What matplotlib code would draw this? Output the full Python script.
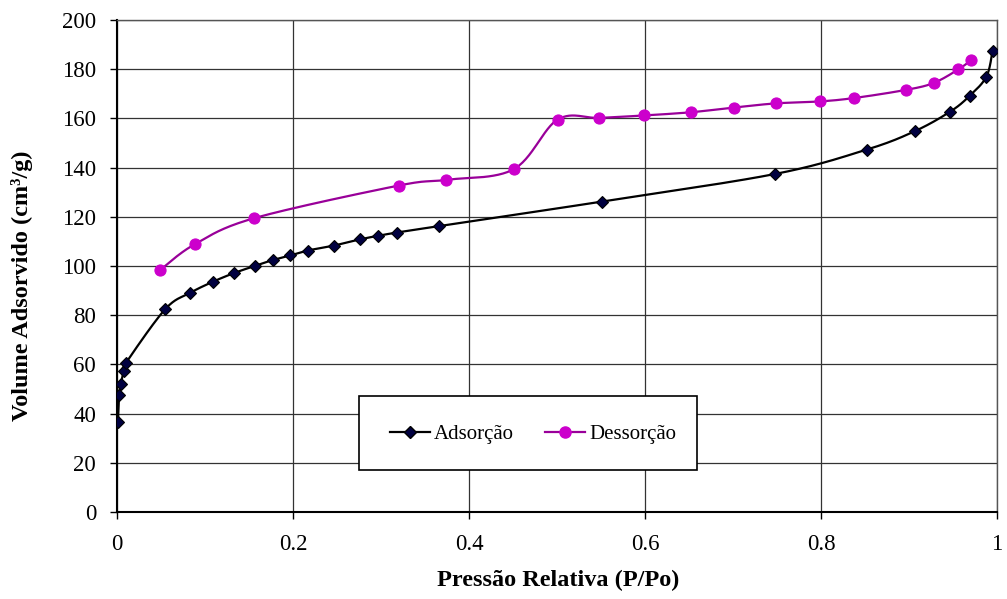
import numpy as np
import matplotlib
matplotlib.use("Agg")
import matplotlib.pyplot as plt
from matplotlib.patches import Rectangle

# Isotherm data: relative pressure P/Po and adsorbed volume (cm3/g)
ads_p = [0.0011, 0.0023, 0.0045, 0.0076, 0.0102, 0.0549, 0.0833, 0.109, 0.1328,
         0.1563, 0.177, 0.197, 0.2168, 0.2463, 0.2758, 0.297, 0.318, 0.3655,
         0.5513, 0.7477, 0.8518, 0.9066, 0.947, 0.969, 0.988, 0.995]
ads_v = [36.7, 47.5, 52.2, 57.4, 60.6, 82.5, 89.1, 93.6, 97.1,
         100.0, 102.4, 104.3, 106.3, 108.3, 110.8, 112.3, 113.6, 116.2,
         126.2, 137.4, 147.3, 154.8, 162.8, 169.2, 177.0, 187.5]

des_p = [0.0488, 0.0882, 0.1555, 0.320, 0.3734, 0.4506, 0.5006, 0.5482, 0.599,
         0.6523, 0.7008, 0.7485, 0.7988, 0.838, 0.8967, 0.928, 0.956, 0.971]
des_v = [98.3, 108.8, 119.4, 132.7, 135.0, 139.3, 159.5, 160.2, 161.2,
         162.5, 164.4, 166.1, 166.9, 168.3, 171.6, 174.4, 179.9, 183.8]

x_ticks = [0, 0.2, 0.4, 0.6, 0.8, 1]
x_tick_labels = ["0", "0.2", "0.4", "0.6", "0.8", "1"]
y_ticks = list(range(0, 201, 20))


def smooth_curve(x, y, sx=881.0, sy=2.457, n=30):
    """Bezier smoothing through the points (cardinal spline, tension 1/6),
    evaluated in screen-proportional units."""
    P = np.column_stack([np.asarray(x) * sx, np.asarray(y) * sy])
    out = [P[0]]
    for i in range(len(P) - 1):
        p0 = P[i - 1] if i > 0 else P[i]
        p1 = P[i]
        p2 = P[i + 1]
        p3 = P[i + 2] if i + 2 < len(P) else P[i + 1]
        c1 = p1 + (p2 - p0) / 6.0
        c2 = p2 - (p3 - p1) / 6.0
        t = np.linspace(0, 1, n)[1:, None]
        seg = ((1 - t) ** 3) * p1 + 3 * ((1 - t) ** 2) * t * c1 + 3 * (1 - t) * t ** 2 * c2 + t ** 3 * p2
        out.extend(seg)
    out = np.array(out)
    return out[:, 0] / sx, out[:, 1] / sy


plt.rcParams['font.family'] = ['Liberation Serif', 'DejaVu Serif']

fig = plt.figure(figsize=(10.07, 5.99), dpi=100)
ax = fig.add_axes([117 / 1007, 1 - 512 / 599, 880 / 1007, 492 / 599])

ads_color = '#000000'
ads_face = '#000040'
des_line = '#990099'
des_face = '#CC00CC'

sx_a, sy_a = smooth_curve(ads_p, ads_v)
ax.plot(sx_a, sy_a, color=ads_color, lw=1.6, zorder=5, solid_capstyle='round')
ax.plot(ads_p, ads_v, ls='none', marker='D', ms=6.5, mfc=ads_face, mec='black',
        mew=0.8, zorder=6)

sx_d, sy_d = smooth_curve(des_p, des_v)
ax.plot(sx_d, sy_d, color=des_line, lw=1.6, zorder=5)
ax.plot(des_p, des_v, ls='none', marker='o', ms=8, mfc=des_face, mec=des_face,
        mew=0.8, zorder=6)

ax.set_xlim(0, 1)
ax.set_ylim(0, 200)
ax.set_xticks(x_ticks)
ax.set_xticklabels(x_tick_labels)
ax.set_yticks(y_ticks)
ax.grid(True, color='#333333', lw=0.9)
ax.set_axisbelow(True)
ax.tick_params(axis='both', direction='out', length=5, width=1, labelsize=16.5,
               colors='black', pad=10)
ax.tick_params(axis='x', pad=11)
for side in ['left', 'bottom']:
    ax.spines[side].set_linewidth(1.5)
    ax.spines[side].set_color('black')
for side in ['top', 'right']:
    ax.spines[side].set_linewidth(1.0)
    ax.spines[side].set_color('#555555')

fig.text(558 / 1007, 1 - 580 / 599, 'Pressão Relativa (P/Po)', ha='center', va='center',
         fontsize=17.5, fontweight='bold')
fig.text(22 / 1007, 1 - 286 / 599, 'Volume Adsorvido (cm³/g)', ha='center', va='center',
         rotation=90, fontsize=17.5, fontweight='bold')

# legend box
ax.add_patch(Rectangle((0.275, 0.0854), 0.384, 0.150, transform=ax.transAxes,
                       facecolor='white', edgecolor='black', lw=1.2, zorder=7))
h1, = ax.plot([], [], color=ads_color, lw=1.6, marker='D', ms=6.5, mfc=ads_face, mec='black')
h2, = ax.plot([], [], color=des_line, lw=1.6, marker='o', ms=8, mfc=des_face, mec=des_face)
leg = ax.legend([h1, h2], ['Adsorção', 'Dessorção'], loc='center',
                bbox_to_anchor=(0.473, 0.1585), ncol=2, frameon=False, fontsize=15,
                handlelength=1.9, handletextpad=0.2, columnspacing=1.5, numpoints=1)
leg.set_zorder(8)

fig.savefig('out.png', dpi=100)
